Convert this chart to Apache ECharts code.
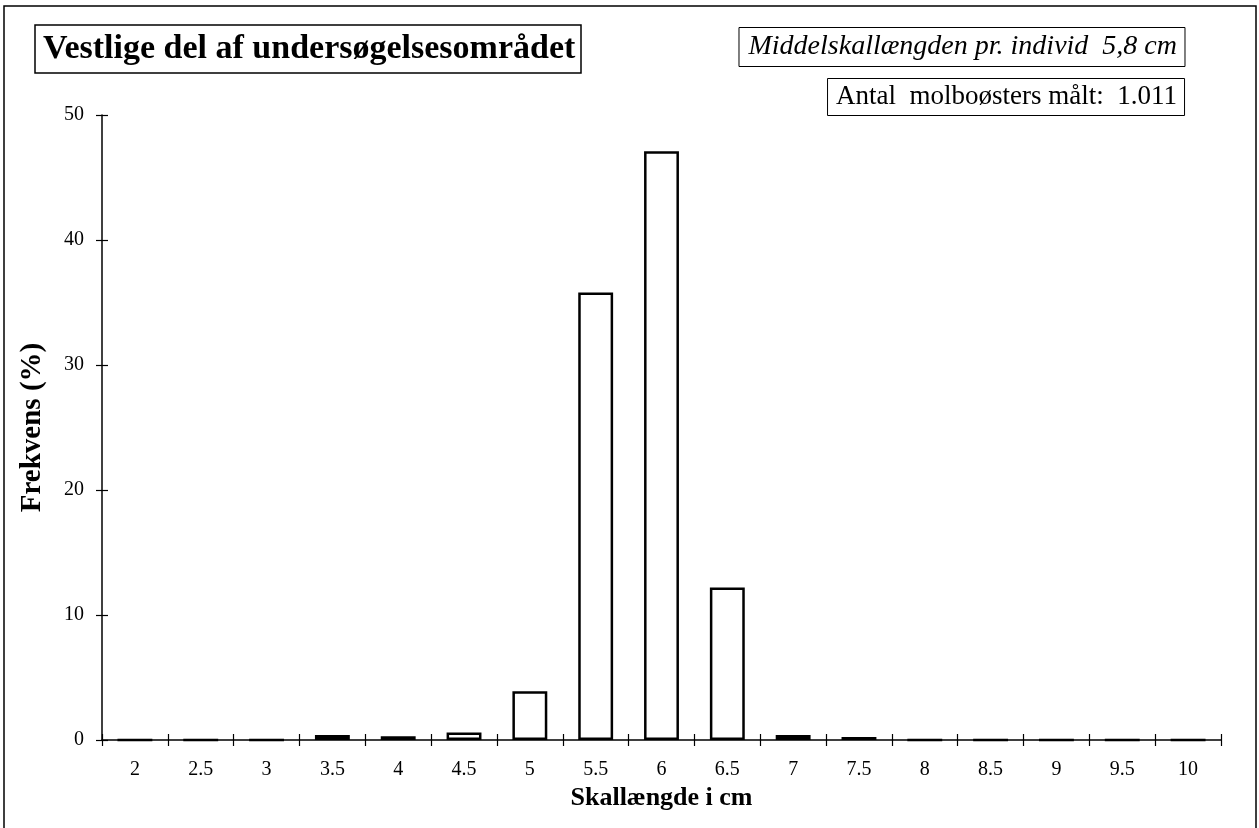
<!DOCTYPE html>
<html><head><meta charset="utf-8">
<script src="https://cdn.jsdelivr.net/npm/echarts@6/dist/echarts.min.js"></script>
<style>html,body{margin:0;padding:0;background:#fff}#c{width:1259px;height:828px}</style>
</head><body><div id="c"></div>
<script>
const categories = ['2','2.5','3','3.5','4','4.5','5','5.5','6','6.5','7','7.5','8','8.5','9','9.5','10'];
const frekvens = [0,0,0,0.4,0.3,0.6,3.9,35.8,47.1,12.2,0.4,0.25,0,0,0,0,0];
const yTicks = [0,10,20,30,40,50];
const titleText = 'Vestlige del af undersøgelsesområdet';
const meanText = 'Middelskallængden pr. individ  5,8 cm';
const countText = 'Antal  molboøsters målt:  1.011';
const xName = 'Skallængde i cm';
const yName = 'Frekvens (%)';

const F = 'Liberation Serif';
const chart = echarts.init(document.getElementById('c'));
const tickStyle = {color: '#000', width: 1.2};
chart.setOption({
  animation: false,
  backgroundColor: '#fff',
  title: [
    {text: titleText, left: 35, top: 25, padding: [5, 6, 5, 8], borderColor: '#000', borderWidth: 1.5,
     textStyle: {fontFamily: F, fontWeight: 'bold', fontSize: 34, lineHeight: 38, color: '#000'}},
    {text: meanText, right: 74, top: 27, padding: [5, 8, 5, 10], borderColor: '#000', borderWidth: 1,
     textStyle: {fontFamily: F, fontStyle: 'italic', fontWeight: 'normal', fontSize: 28, lineHeight: 30, color: '#000'}},
    {text: countText, right: 74, top: 78, padding: [4, 8, 4, 9], borderColor: '#000', borderWidth: 1,
     textStyle: {fontFamily: F, fontWeight: 'normal', fontSize: 27, lineHeight: 30, color: '#000'}}
  ],
  graphic: [{type: 'rect', shape: {x: 4, y: 6, width: 1252, height: 830}, style: {fill: 'none', stroke: '#000', lineWidth: 1.5}}],
  grid: {left: 102, right: 38, top: 115, bottom: 88},
  xAxis: [{
    type: 'category', data: categories, boundaryGap: true,
    name: xName, nameLocation: 'middle', nameGap: 40,
    nameTextStyle: {fontFamily: F, fontWeight: 'bold', fontSize: 26, color: '#000'},
    axisLine: {lineStyle: {color: '#000', width: 1.5}},
    axisTick: {show: true, length: 6, alignWithLabel: false, lineStyle: tickStyle},
    axisLabel: {fontFamily: F, fontSize: 20, color: '#000', margin: 20}
  }, {
    type: 'category', data: categories, boundaryGap: true, position: 'bottom',
    axisLine: {show: false},
    axisTick: {show: true, inside: true, length: 6, alignWithLabel: false, lineStyle: tickStyle},
    axisLabel: {show: false}
  }],
  yAxis: [{
    type: 'value', min: yTicks[0], max: yTicks[yTicks.length-1], interval: 10,
    name: yName, nameLocation: 'middle', nameGap: 55, nameRotate: 90,
    nameTextStyle: {fontFamily: F, fontWeight: 'bold', fontSize: 29, color: '#000'},
    axisLine: {show: true, lineStyle: {color: '#000', width: 1.5}},
    axisTick: {show: true, length: 6, lineStyle: tickStyle},
    axisLabel: {fontFamily: F, fontSize: 20, color: '#000', margin: 18},
    splitLine: {show: false}
  }, {
    type: 'value', min: yTicks[0], max: yTicks[yTicks.length-1], interval: 10, position: 'left',
    axisLine: {show: false},
    axisTick: {show: true, inside: true, length: 6, lineStyle: tickStyle},
    axisLabel: {show: false}, splitLine: {show: false}
  }],
  series: [{
    type: 'bar', data: frekvens, barWidth: '53%',
    itemStyle: {color: '#fff', borderColor: '#000', borderWidth: 2.5}
  }]
});
</script></body></html>
